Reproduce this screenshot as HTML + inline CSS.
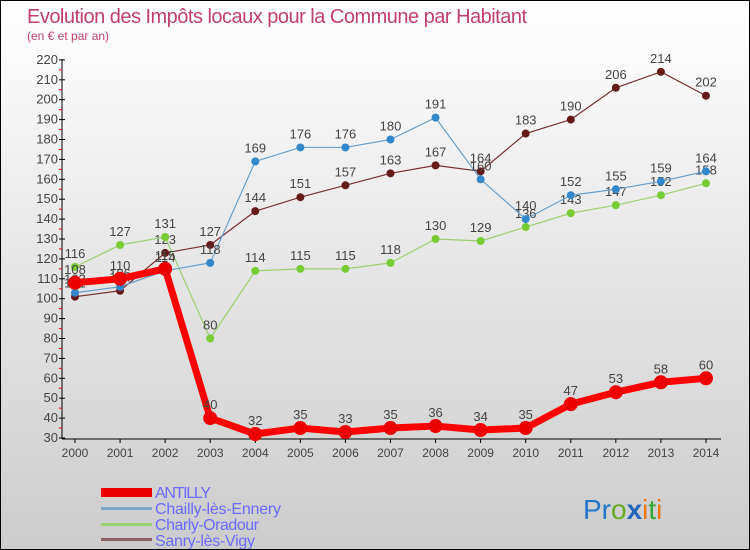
<!DOCTYPE html>
<html><head><meta charset="utf-8"><style>
body{margin:0}
#wrap{width:748px;height:548px;border:1px solid #000;background:linear-gradient(#fff,#ccc);position:relative;overflow:hidden;font-family:"Liberation Sans",sans-serif}
</style></head><body>
<div id="wrap">
<svg id="svg" width="748" height="548">
<text x="26" y="22" font-size="20" fill="#c0406a" textLength="500">Evolution des Impôts locaux pour la Commune par Habitant</text>
<text x="26" y="39" font-size="12" fill="#c0406a">(en € et par an)</text>
<g id="axes"></g><g id="series"></g>
<g font-size="16" fill="#6a6aff">
<rect x="100" y="487" width="51" height="9" fill="#e00"/>
<text x="154" y="497" textLength="56">ANTILLY</text>
<rect x="100" y="506" width="51" height="3" fill="#7fa8c8"/>
<text x="154" y="513" textLength="126">Chailly-lès-Ennery</text>
<rect x="100" y="522" width="51" height="3" fill="#9dd070"/>
<text x="154" y="529" textLength="104">Charly-Oradour</text>
<rect x="100" y="537" width="51" height="3" fill="#8a6060"/>
<text x="154" y="545" textLength="100">Sanry-lès-Vigy</text>
</g>
<text x="582" y="518" font-size="28" font-family="Liberation Sans,sans-serif"><tspan fill="#2277cc">Pr</tspan><tspan fill="#66aa22">o</tspan><tspan fill="#2266bb" font-weight="bold">x</tspan><tspan fill="#ee7711">i</tspan><tspan fill="#33aa33">t</tspan><tspan fill="#ee7711">i</tspan></text>
</svg></div>
<script>
const years=[2000,2001,2002,2003,2004,2005,2006,2007,2008,2009,2010,2011,2012,2013,2014];
const yTicks=[30,40,50,60,70,80,90,100,110,120,130,140,150,160,170,180,190,200,210,220];
const antilly=[108,110,115,40,32,35,33,35,36,34,35,47,53,58,60];
const chailly=[103,106,114,118,169,176,176,180,191,160,140,152,155,159,164];
const charly=[116,127,131,80,114,115,115,118,130,129,136,143,147,152,158];
const sanry=[101,104,123,127,144,151,157,163,167,164,183,190,206,214,202];
const NS='http://www.w3.org/2000/svg';
const X=i=>74+i*45.07, Y=v=>437-(v-30)*1.99;
function mk(t,a,p){const e=document.createElementNS(NS,t);for(const k in a)e.setAttribute(k,a[k]);p.appendChild(e);return e;}
const ax=document.getElementById('axes'), sg=document.getElementById('series');
let l=mk('line',{x1:61,y1:58,x2:61,y2:438,stroke:'#000'},ax);


l=mk('line',{x1:61,y1:438,x2:720,y2:438,stroke:'#000'},ax);


yTicks.forEach(v=>{mk('line',{x1:58,y1:Y(v),x2:64,y2:Y(v),stroke:'#000'},ax);
 if(v<220)mk('line',{x1:58,y1:Y(v+5),x2:61,y2:Y(v+5),stroke:'#e00'},ax);
 const t=mk('text',{x:57,y:Y(v)+4,'text-anchor':'end','font-size':13,fill:'#444'},ax);t.textContent=v;
 
 });
years.forEach((y,i)=>{mk('line',{x1:X(i),y1:438,x2:X(i),y2:442,stroke:'#000'},ax);
 const t=mk('text',{x:X(i),y:456,'text-anchor':'middle','font-size':12,fill:'#444'},ax);t.textContent=y;
 
 });
function series(d,col,dot,w,r,name){
 const g=mk('g',{},sg);
 
 
 mk('polyline',{points:d.map((v,i)=>X(i)+','+Y(v)).join(' '),fill:'none',stroke:col,'stroke-width':w,'stroke-linejoin':'round'},g);
 d.forEach((v,i)=>{const c=mk('circle',{cx:X(i),cy:Y(v),r:r,fill:dot},g);
  
  
  const t=mk('text',{x:X(i),y:Y(v)-9,'text-anchor':'middle','font-size':13,fill:'#444'},g);t.textContent=v;});
}
series(sanry,'#7a3030','#661a1a',1.2,4,'sanry');
series(charly,'#9dd070','#77cc33',1.2,4,'charly');
series(chailly,'#6aa0cc','#3388cc',1.2,4,'chailly');
series(antilly,'#f00','#e00',7,7,'antilly');
</script>
</body></html>
